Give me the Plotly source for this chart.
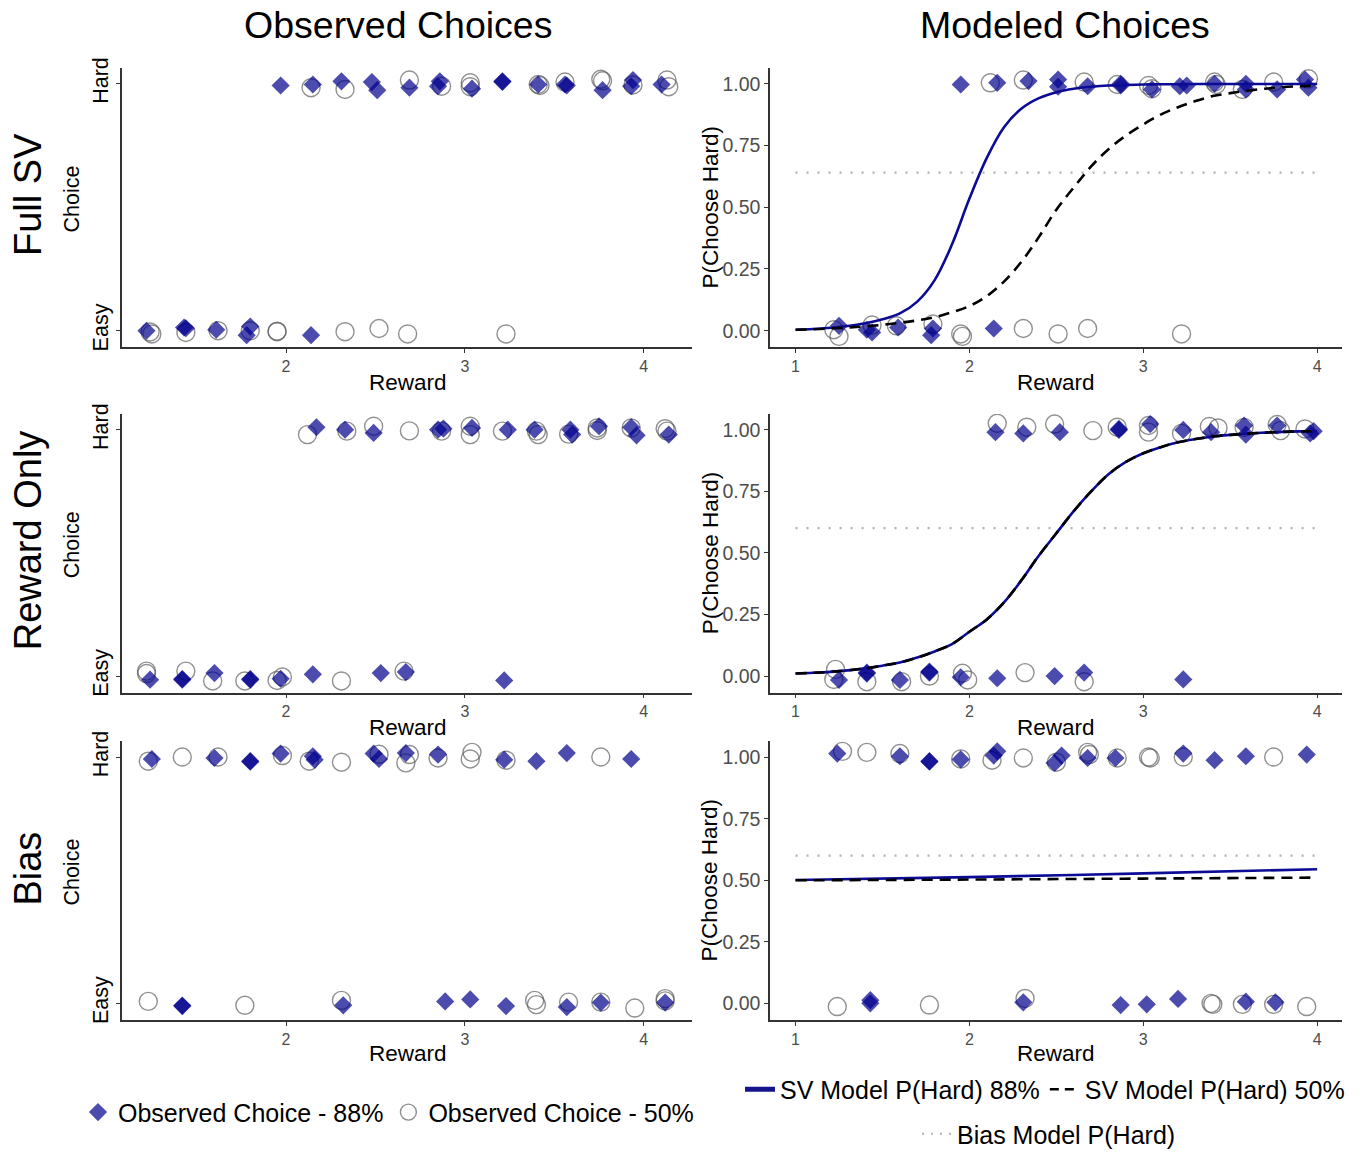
import plotly.graph_objects as go

# ---------------- DATA ----------------
# Panel A: Full SV - observed choices
a88_x = [1.97, 2.15, 2.31, 2.48, 2.51, 2.69, 2.86, 2.85, 3.04, 3.21, 3.21, 3.41, 3.57, 3.56, 3.77, 3.94, 3.93, 4.10,
         1.22, 1.43, 1.44, 1.61, 1.80, 1.78, 2.14]
a88_y = [0.993, 0.997, 1.010, 1.007, 0.974, 0.984, 1.010, 0.990, 0.980, 1.010, 1.008, 0.997, 0.993, 0.997, 0.974, 1.015, 0.990, 0.997,
         0.000, 0.013, 0.010, 0.004, 0.017, -0.018, -0.018]
a50_x = [2.14, 2.33, 2.69, 2.87, 3.03, 3.03, 3.41, 3.42, 3.56, 3.76, 3.77, 3.94, 4.13, 4.14,
         1.25, 1.24, 1.44, 1.62, 1.80, 1.95, 1.95, 2.33, 2.52, 2.68, 3.23]
a50_y = [0.984, 0.977, 1.015, 0.990, 1.004, 0.988, 0.997, 0.993, 1.007, 1.018, 1.012, 0.995, 1.015, 0.988,
         -0.013, -0.005, -0.007, 0.000, 0.000, -0.004, -0.002, -0.004, 0.009, -0.013, -0.013]

# Panel B: Full SV - modeled choices
b88_x = [1.95, 2.16, 2.34, 2.51, 2.51, 2.68, 2.87, 2.87, 3.05, 3.21, 3.25, 3.41, 3.59, 3.59, 3.77, 3.93, 3.95,
         1.25, 1.41, 1.44, 1.59, 1.79, 1.78, 2.14]
b88_y = [0.997, 1.004, 1.011, 1.017, 0.988, 0.990, 1.000, 0.993, 0.977, 0.990, 0.993, 1.000, 1.000, 0.977, 0.977, 1.017, 0.984,
         0.020, 0.004, -0.007, 0.013, 0.009, -0.018, 0.009]
b50_x = [2.12, 2.31, 2.66, 2.85, 3.03, 3.05, 3.41, 3.42, 3.57, 3.75, 3.95,
         1.22, 1.25, 1.44, 1.58, 1.79, 1.95, 1.96, 2.31, 2.51, 2.68, 3.22]
b50_y = [1.004, 1.015, 1.007, 0.997, 0.993, 0.980, 1.007, 0.997, 0.977, 1.007, 1.020,
         0.004, -0.023, 0.023, 0.020, 0.027, -0.013, -0.023, 0.009, -0.013, 0.009, -0.013]

# Panel C: Reward Only - observed choices
c88_x = [2.17, 2.33, 2.49, 2.85, 2.88, 3.04, 3.24, 3.39, 3.59, 3.60, 3.75, 3.93, 3.96, 4.14,
         1.24, 1.42, 1.42, 1.60, 1.80, 1.80, 1.97, 2.15, 2.53, 2.67, 3.22]
c88_y = [1.011, 1.001, 0.988, 1.001, 1.005, 1.008, 1.001, 1.001, 1.001, 0.981, 1.015, 1.011, 0.978, 0.981,
         -0.015, -0.015, -0.012, 0.012, -0.015, -0.012, -0.011, 0.007, 0.012, 0.016, -0.018]
c50_x = [2.12, 2.34, 2.49, 2.69, 2.87, 3.03, 3.03, 3.21, 3.41, 3.40, 3.58, 3.74, 3.74, 3.93, 4.12, 4.13,
         1.22, 1.22, 1.44, 1.59, 1.77, 1.95, 1.98, 2.31, 2.66]
c50_y = [0.981, 0.995, 1.015, 0.996, 0.995, 1.015, 0.981, 0.995, 0.981, 0.995, 0.983, 1.008, 0.998, 1.008, 1.005, 0.995,
         0.020, 0.010, 0.020, -0.020, -0.020, -0.018, -0.004, -0.020, 0.020]

# Panel D: Reward Only - modeled choices
d88_x = [2.15, 2.31, 2.52, 2.86, 2.86, 3.04, 3.23, 3.39, 3.58, 3.59, 3.77, 3.98, 3.96,
         1.25, 1.41, 1.41, 1.60, 1.77, 1.77, 1.95, 2.16, 2.49, 2.66, 3.23]
d88_y = [0.991, 0.986, 0.991, 1.004, 1.000, 1.024, 1.000, 0.991, 1.018, 0.981, 1.018, 0.995, 0.986,
         -0.016, 0.014, 0.010, -0.016, 0.018, 0.014, -0.005, -0.009, 0.000, 0.014, -0.014]
d50_x = [2.16, 2.33, 2.49, 2.71, 2.85, 3.03, 3.03, 3.22, 3.38, 3.43, 3.58, 3.77, 3.79, 3.93,
         1.23, 1.22, 1.41, 1.61, 1.77, 1.96, 1.99, 2.32, 2.66]
d50_y = [1.027, 1.011, 1.024, 0.997, 1.011, 1.018, 0.991, 0.986, 1.014, 1.008, 1.010, 1.022, 0.997, 1.004,
         0.027, -0.014, -0.023, -0.023, 0.000, 0.011, -0.016, 0.014, -0.023]

# Panel E: Bias - observed choices
e88_x = [1.25, 1.60, 1.80, 1.80, 1.97, 2.15, 2.16, 2.49, 2.52, 2.67, 2.85, 3.22, 3.40, 3.57, 3.93,
         1.42, 1.42, 2.32, 2.89, 3.03, 3.23, 3.57, 3.76, 4.12]
e88_y = [0.993, 0.997, 0.984, 0.982, 1.015, 1.004, 0.990, 1.015, 0.993, 1.017, 1.011, 0.990, 0.984, 1.017, 0.993,
         -0.011, -0.009, -0.008, 0.008, 0.016, -0.011, -0.015, 0.003, 0.003]
e50_x = [1.23, 1.42, 1.62, 1.98, 2.13, 2.31, 2.52, 2.69, 2.67, 2.85, 3.04, 3.03, 3.23, 3.76,
         1.23, 1.77, 2.31, 3.39, 3.40, 3.58, 3.76, 3.95, 4.12, 4.12]
e50_y = [0.984, 1.001, 1.001, 1.007, 0.984, 0.980, 1.012, 1.011, 0.977, 0.997, 1.020, 0.993, 0.988, 1.001,
         0.008, -0.008, 0.012, 0.012, -0.005, 0.005, 0.005, -0.019, 0.019, 0.010]

# Panel F: Bias - modeled choices
f88_x = [1.24, 1.60, 1.77, 1.77, 1.95, 2.14, 2.16, 2.49, 2.53, 2.68, 2.84, 3.23, 3.41, 3.59, 3.94,
         1.43, 1.43, 2.31, 2.87, 3.02, 3.20, 3.59, 3.76]
f88_y = [1.015, 1.004, 0.984, 0.982, 0.991, 1.007, 1.024, 0.977, 1.007, 0.997, 0.997, 1.015, 0.988, 1.004, 1.011,
         0.013, 0.000, 0.004, -0.007, -0.004, 0.018, 0.007, 0.004]
f50_x = [1.27, 1.41, 1.60, 1.95, 2.13, 2.31, 2.50, 2.68, 2.69, 2.85, 3.03, 3.04, 3.23, 3.75,
         1.24, 1.77, 2.32, 3.39, 3.40, 3.57, 3.75, 3.94]
f50_y = [1.024, 1.020, 1.015, 0.993, 0.988, 0.997, 0.980, 1.020, 1.011, 0.997, 1.001, 0.997, 1.001, 1.001,
         -0.013, -0.007, 0.020, 0.000, -0.004, -0.004, -0.004, -0.013]

# Model curves (at these reward values)
curve_x = [1.0, 1.1, 1.2, 1.3, 1.4, 1.5, 1.6, 1.7, 1.8, 1.9, 2.0, 2.1, 2.2, 2.3, 2.4, 2.5,
           2.6, 2.7, 2.8, 2.9, 3.0, 3.1, 3.2, 3.3, 3.4, 3.5, 3.6, 3.7, 3.8, 3.9, 4.0]
fullsv_sv88 = [0.004, 0.007, 0.012, 0.019, 0.030, 0.046, 0.070, 0.118, 0.205, 0.350, 0.535, 0.700, 0.825, 0.900, 0.942, 0.966,
               0.980, 0.988, 0.993, 0.995, 0.997, 0.998, 0.998, 0.999, 0.999, 0.999, 0.999, 0.999, 0.999, 0.999, 0.999]
fullsv_sv50 = [0.004, 0.006, 0.009, 0.013, 0.018, 0.024, 0.032, 0.042, 0.055, 0.075, 0.100, 0.140, 0.200, 0.280, 0.380, 0.490,
               0.580, 0.665, 0.735, 0.790, 0.835, 0.875, 0.905, 0.930, 0.950, 0.962, 0.972, 0.980, 0.986, 0.990, 0.993]
reward_sv88 = [0.010, 0.013, 0.017, 0.023, 0.031, 0.042, 0.055, 0.075, 0.100, 0.130, 0.180, 0.230, 0.300, 0.390, 0.490, 0.580,
               0.670, 0.750, 0.820, 0.870, 0.905, 0.930, 0.950, 0.963, 0.973, 0.980, 0.985, 0.989, 0.992, 0.994, 0.995]
reward_sv50 = reward_sv88
bias_x = [1.0, 2.0, 3.0, 4.0]
bias_sv88 = [0.501, 0.513, 0.528, 0.545]
bias_sv50 = [0.500, 0.503, 0.507, 0.511]
bias_level_x = [1.0, 4.0]
bias_model = [0.640, 0.601, 0.600]   # Full SV, Reward Only, Bias rows

row_labels = ["Full SV", "Reward Only", "Bias"]
col_titles = ["Observed Choices", "Modeled Choices"]
choice_ticks = ["Easy", "Hard"]
prob_ticks = ["0.00", "0.25", "0.50", "0.75", "1.00"]

# ---------------- FIGURE ----------------
W, H = 1371, 1157
FONT = "Liberation Sans, Arial, sans-serif"

def ymap(y):
    # compensate the vertical placement seen in the rendered screenshot
    return (y - 10) / 0.986

def pxx(x): return x / W
def pyy(y): return 1 - ymap(y) / H

rows = [(68, 349), (416, 696), (745, 1025)]
left_px = (122, 692)
right_px = (770, 1342)

DIAM = "rgba(0,0,139,0.70)"
CIRC = "rgba(85,85,85,0.65)"
NAVY = "#0b0b96"

fig = go.Figure()

points = [
    (a88_x, a88_y, a50_x, a50_y), (b88_x, b88_y, b50_x, b50_y),
    (c88_x, c88_y, c50_x, c50_y), (d88_x, d88_y, d50_x, d50_y),
    (e88_x, e88_y, e50_x, e50_y), (f88_x, f88_y, f50_x, f50_y),
]
curves = [(curve_x, fullsv_sv88, fullsv_sv50), (curve_x, reward_sv88, reward_sv50), (bias_x, bias_sv88, bias_sv50)]

for i, (dx, dy, cx, cy) in enumerate(points):
    n = i + 1
    xa, ya = f"x{n}" if n > 1 else "x", f"y{n}" if n > 1 else "y"
    fig.add_trace(go.Scatter(x=cx, y=cy, mode="markers", xaxis=xa, yaxis=ya,
                             name="Observed Choice - 50%", showlegend=(n == 1), legendrank=2,
                             marker=dict(symbol="circle-open", size=18, color=CIRC, line=dict(width=1.4, color=CIRC))))
    fig.add_trace(go.Scatter(x=dx, y=dy, mode="markers", xaxis=xa, yaxis=ya,
                             name="Observed Choice - 88%", showlegend=(n == 1), legendrank=1,
                             marker=dict(symbol="diamond", size=14, color=DIAM, line=dict(width=0))))
    if n % 2 == 0:
        r = n // 2 - 1
        cxv, s88, s50 = curves[r]
        fig.add_trace(go.Scatter(x=bias_level_x, y=[bias_model[r]] * 2, mode="lines", xaxis=xa, yaxis=ya,
                                 name="Bias Model P(Hard)", showlegend=False,
                                 line=dict(color="#b0b0b0", width=2.2, dash="2px,9px")))
        fig.add_trace(go.Scatter(x=cxv, y=s88, mode="lines", xaxis=xa, yaxis=ya, line_shape="spline",
                                 name="SV Model P(Hard) 88%", showlegend=False,
                                 line=dict(color=NAVY, width=2.6)))
        fig.add_trace(go.Scatter(x=cxv, y=s50, mode="lines", xaxis=xa, yaxis=ya, line_shape="spline",
                                 name="SV Model P(Hard) 50%", showlegend=False,
                                 line=dict(color="black", width=2.6, dash="11px,7px")))

# legend entries for the model lines (ggplot-style key widths)
fig.add_trace(go.Scatter(x=[None], y=[None], mode="lines", xaxis="x2", yaxis="y2",
                         name="SV Model P(Hard) 88%", legend="legend2", legendrank=1,
                         line=dict(color="#14148c", width=5)))
fig.add_trace(go.Scatter(x=[None], y=[None], mode="lines", xaxis="x2", yaxis="y2",
                         name="SV Model P(Hard) 50%", legend="legend2", legendrank=2,
                         line=dict(color="black", width=2.6, dash="9px,6px")))
fig.add_trace(go.Scatter(x=[None], y=[None], mode="lines", xaxis="x2", yaxis="y2",
                         name="Bias Model P(Hard)", legend="legend3",
                         line=dict(color="#b0b0b0", width=2.2, dash="2px,7px")))

axis_common = dict(showline=True, linecolor="#333333", linewidth=1.5, showgrid=False, zeroline=False,
                   ticks="outside", ticklen=4, tickwidth=1.2, tickcolor="#333333")
layout = dict(width=W, height=H, margin=dict(l=0, r=0, t=0, b=0),
              paper_bgcolor="white", plot_bgcolor="white",
              font=dict(family=FONT, color="black"))

for i in range(6):
    n = i + 1
    r = i // 2
    is_left = (i % 2 == 0)
    xp = left_px if is_left else right_px
    top, bot = rows[r]
    xk = "xaxis" if n == 1 else f"xaxis{n}"
    yk = "yaxis" if n == 1 else f"yaxis{n}"
    ya_name = "y" if n == 1 else f"y{n}"
    xa_name = "x" if n == 1 else f"x{n}"
    if is_left:
        layout[xk] = dict(axis_common, domain=[pxx(xp[0]), pxx(xp[1])], range=[1.083, 4.27],
                          tickvals=[2, 3, 4], ticktext=["2", "3", "4"], anchor=ya_name,
                          tickfont=dict(size=16, color="#4d4d4d"))
        layout[yk] = dict(axis_common, domain=[pyy(bot), pyy(top)], range=[-0.067, 1.065],
                          tickvals=[0, 1], ticktext=choice_ticks, tickangle=-90, anchor=xa_name,
                          tickfont=dict(size=21.5, color="black"))
    else:
        layout[xk] = dict(axis_common, domain=[pxx(xp[0]), pxx(xp[1])], range=[0.853, 4.143],
                          tickvals=[1, 2, 3, 4], ticktext=["1", "2", "3", "4"], anchor=ya_name,
                          tickfont=dict(size=16, color="#4d4d4d"))
        layout[yk] = dict(axis_common, domain=[pyy(bot), pyy(top)], range=[-0.067, 1.065],
                          tickvals=[0, 0.25, 0.5, 0.75, 1.0], ticktext=prob_ticks, anchor=xa_name,
                          tickfont=dict(size=19.5, color="#4d4d4d"))

leg_common = dict(orientation="h", bgcolor="rgba(0,0,0,0)", font=dict(family=FONT, size=25, color="black"),
                  xanchor="left", yanchor="middle", traceorder="normal")
layout["legend"] = dict(leg_common, x=pxx(78), y=pyy(1118))
layout["legend2"] = dict(leg_common, x=pxx(740), y=pyy(1095))
layout["legend3"] = dict(leg_common, x=pxx(917), y=pyy(1140))

fig.update_layout(**layout)

ann = []
def add_text(text, x, y, size, angle=0, color="black"):
    ann.append(dict(text=text, x=pxx(x), y=pyy(y), xref="paper", yref="paper", showarrow=False,
                    textangle=angle, xanchor="center", yanchor="middle",
                    font=dict(family=FONT, size=size, color=color)))

add_text(col_titles[0], 398, 25, 37.5)
add_text(col_titles[1], 1065, 25, 37.5)
row_centers = [196, 543, 873]
reward_y = [384, 731, 1059]
for r, (top, bot) in enumerate(rows):
    add_text(row_labels[r], 28, row_centers[r], 38, angle=-90)
    mid = (top + bot) / 2
    add_text("Choice", 72, mid - 8, 21.5, angle=-90)
    add_text("P(Choose Hard)", 710, mid, 22.5, angle=-90)
    add_text("Reward", 408, reward_y[r], 22.5)
    add_text("Reward", 1056, reward_y[r], 22.5)

fig.update_layout(annotations=ann)
fig.write_html("out.html", config={"displayModeBar": False},
               post_script="document.body.style.margin='0';document.body.style.overflow='hidden';")
